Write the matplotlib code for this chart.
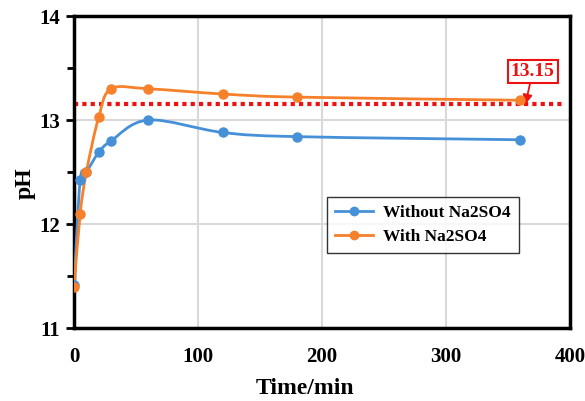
import numpy as np
import matplotlib.pyplot as plt
from matplotlib.path import Path
from matplotlib.patches import PathPatch

plt.rcParams['font.family'] = ['Liberation Serif', 'DejaVu Serif']
plt.rcParams['font.weight'] = 'bold'
plt.rcParams['axes.labelweight'] = 'bold'

# sampling times (min) and measured pH
time_without = [0, 5, 10, 20, 30, 60, 120, 180, 360]
ph_without = [11.41, 12.42, 12.50, 12.69, 12.80, 13.00, 12.88, 12.84, 12.81]
time_with = [0, 5, 10, 20, 30, 60, 120, 180, 360]
ph_with = [11.39, 12.10, 12.50, 13.03, 13.30, 13.30, 13.25, 13.22, 13.19]
threshold = 13.15

labels = ['Without Na2SO4', 'With Na2SO4']
colors = ['#4690d8', '#f7802b']


def smooth_path(ax, x, y):
    # Bezier segments through the points (spreadsheet-style smoothed line)
    pts = ax.transData.transform(np.column_stack([x, y]))
    verts = [pts[0]]
    codes = [Path.MOVETO]
    n = len(pts)
    for i in range(n - 1):
        p0 = pts[i - 1] if i > 0 else pts[i]
        p1, p2 = pts[i], pts[i + 1]
        p3 = pts[i + 2] if i + 2 < n else pts[i + 1]
        c1 = p1 + (p2 - p0) / 6.0
        c2 = p2 - (p3 - p1) / 6.0
        verts += [c1, c2, p2]
        codes += [Path.CURVE4] * 3
    return Path(ax.transData.inverted().transform(np.array(verts)), codes)


fig = plt.figure(figsize=(5.85, 4.01), dpi=100)
ax = fig.add_axes([74 / 585, 1 - 328 / 401, 496 / 585, 312 / 401])
ax.set_xlim(0, 400)
ax.set_ylim(11, 14)

ax.set_xticks([0, 100, 200, 300, 400])
ax.set_yticks([11, 12, 13, 14])
ax.set_yticks([11.5, 12.5, 13.5], minor=True)
ax.grid(True, color='#d9d9d9', linewidth=1.5)
ax.set_axisbelow(True)
ax.tick_params(axis='x', length=0, pad=14, labelsize=15)
ax.tick_params(axis='y', which='major', length=6, width=2, direction='out',
               labelsize=15, pad=4)
ax.tick_params(axis='y', which='minor', length=5, width=2, direction='out')
for sp in ax.spines.values():
    sp.set_linewidth(2.5)
    sp.set_color('black')

fig.canvas.draw()
for x, y, c, lab in [(time_without, ph_without, colors[0], labels[0]),
                     (time_with, ph_with, colors[1], labels[1])]:
    ax.add_patch(PathPatch(smooth_path(ax, x, y), facecolor='none',
                           edgecolor=c, linewidth=2, zorder=3))
    ax.plot(x, y, 'o', color=c, markersize=6.5, zorder=4)
    ax.plot([], [], '-o', color=c, linewidth=2, markersize=6, label=lab)

ax.plot([0, 396], [threshold, threshold], color='#ee1111', linestyle=(0, (1, 1)),
        linewidth=3, zorder=2)

ax.annotate(f'{threshold:.2f}', xy=(364, threshold), xytext=(370, 13.47),
            ha='center', va='center', color='#ee1111', fontsize=14,
            bbox=dict(boxstyle='square,pad=0.15', facecolor='white',
                      edgecolor='#ee1111', linewidth=1.5),
            arrowprops=dict(arrowstyle='-|>', color='#ee1111', lw=1.3,
                            mutation_scale=14, shrinkA=0, shrinkB=0))

leg = ax.legend(loc='upper left', bbox_to_anchor=(253 / 496, (328 - 197) / 312),
                borderaxespad=0, fontsize=12.5, frameon=True, fancybox=False,
                edgecolor='black', borderpad=0.45, handlelength=2.2,
                labelspacing=0.45, handletextpad=0.6)
leg.get_frame().set_linewidth(1)

ax.set_xlabel('Time/min', fontsize=17, va='center')
ax.xaxis.set_label_coords((305 - 74) / 496, -(388 - 328) / 312)
ax.set_ylabel('pH', fontsize=17, va='center')
ax.yaxis.set_label_coords(-(74 - 25) / 496, (328 - 183) / 312)

fig.savefig('out.png', dpi=100)
